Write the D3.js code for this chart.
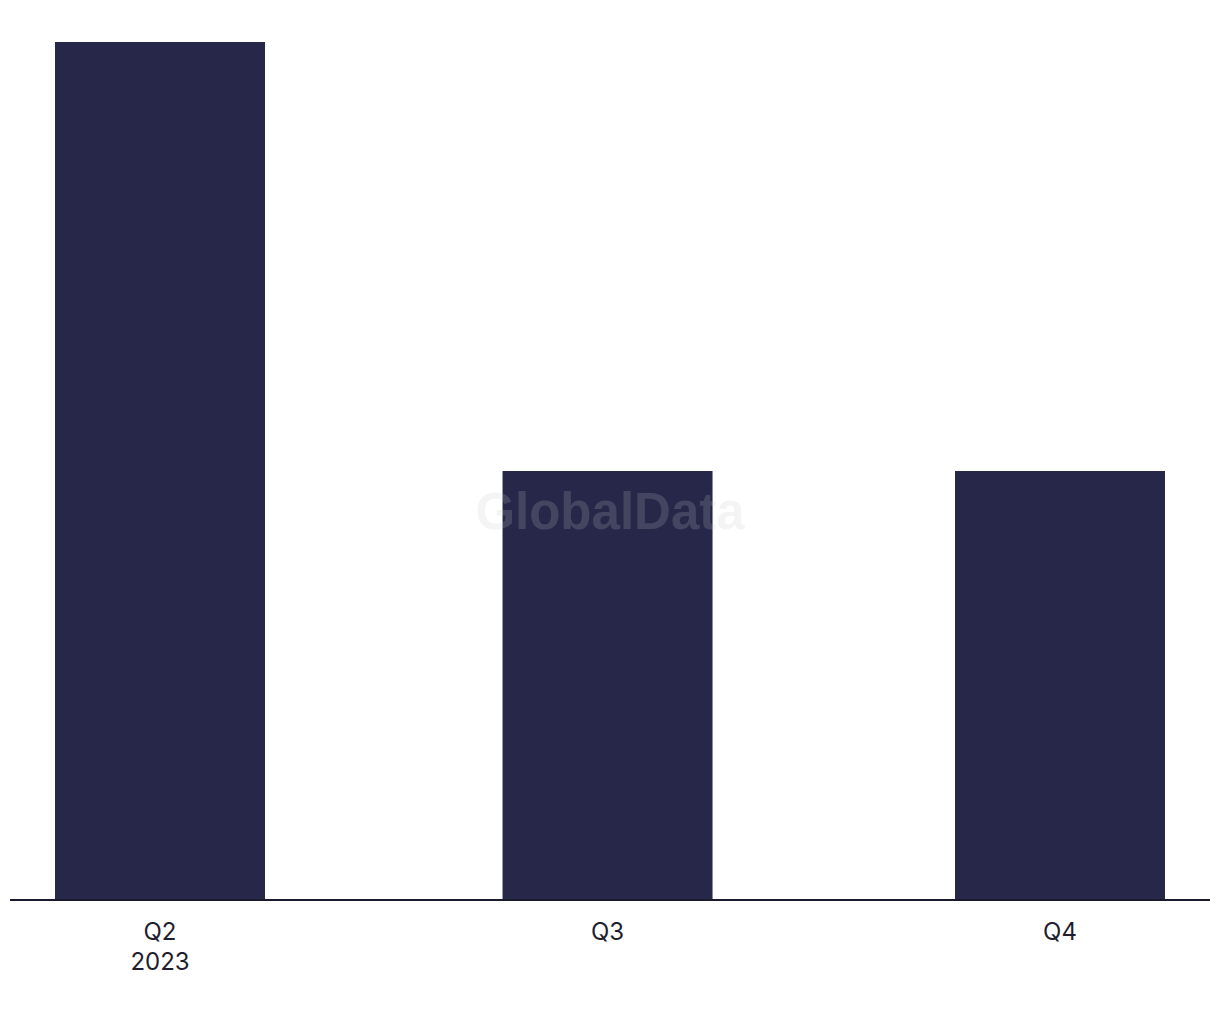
<!DOCTYPE html>
<html>
<head>
<meta charset="utf-8">
<script src="https://cdn.jsdelivr.net/npm/d3@7"></script>
<style>
body { margin: 0; background: #fff; }
</style>
</head>
<body>
<div id="chart"></div>
<script>
var width = 1220,
height = 1020,
baseline = 900,
top_y = 42,
bar_width = 210;

// quarters as dates, so spacing follows days (time scale)
var quarters = ["2023-04-01", "2023-07-01", "2023-10-01"];
var values = [2, 1, 1];
var quarter_labels = ["Q2", "Q3", "Q4"];
var year_labels = ["2023", "", ""];

var parse = d3.timeParse("%Y-%m-%d");
var dataset = quarters.map(function(q, i) {
	return { date: parse(q), value: values[i], label: quarter_labels[i], year: year_labels[i] };
});

var svg = d3.select("#chart")
.append("svg")
.attr("width", width)
.attr("height", height);

var xScale = d3.scaleTime()
.domain(d3.extent(dataset, function(d) { return d.date }))
.range([160, 1060]);

var yScale = d3.scaleLinear()
.domain([0, d3.max(dataset, function(d) { return d.value })])
.range([baseline, top_y]);

svg.selectAll("rect")
.data(dataset)
.enter()
.append("rect")
.attr("x", function(d) { return xScale(d.date) - bar_width / 2 })
.attr("y", function(d) { return yScale(d.value) })
.attr("width", bar_width)
.attr("height", function(d) { return baseline - yScale(d.value) })
.style("fill", "#272849");

// watermark
svg.append("text")
.text("GlobalData")
.attr("x", 610)
.attr("y", 529)
.attr("text-anchor", "middle")
.attr("font-family", "Liberation Sans, Arial, sans-serif")
.attr("font-weight", "bold")
.attr("font-size", "51px")
.attr("fill", "#c5c5c5")
.attr("fill-opacity", 0.19);

// baseline
svg.append("line")
.attr("x1", 10)
.attr("x2", 1210)
.attr("y1", baseline)
.attr("y2", baseline)
.attr("stroke", "#1a1a2e")
.attr("stroke-width", 2);

var labels = svg.selectAll(".xlabel")
.data(dataset)
.enter()
.append("text")
.attr("class", "xlabel")
.attr("x", function(d) { return xScale(d.date) })
.attr("y", 940)
.attr("text-anchor", "middle")
.attr("font-family", "Inter, sans-serif")
.attr("font-size", "24px")
.attr("fill", "#1e1e2e");

labels.append("tspan")
.attr("x", function(d) { return xScale(d.date) })
.text(function(d) { return d.label });

labels.append("tspan")
.attr("x", function(d) { return xScale(d.date) })
.attr("dy", 30)
.text(function(d) { return d.year });
</script>
</body>
</html>
